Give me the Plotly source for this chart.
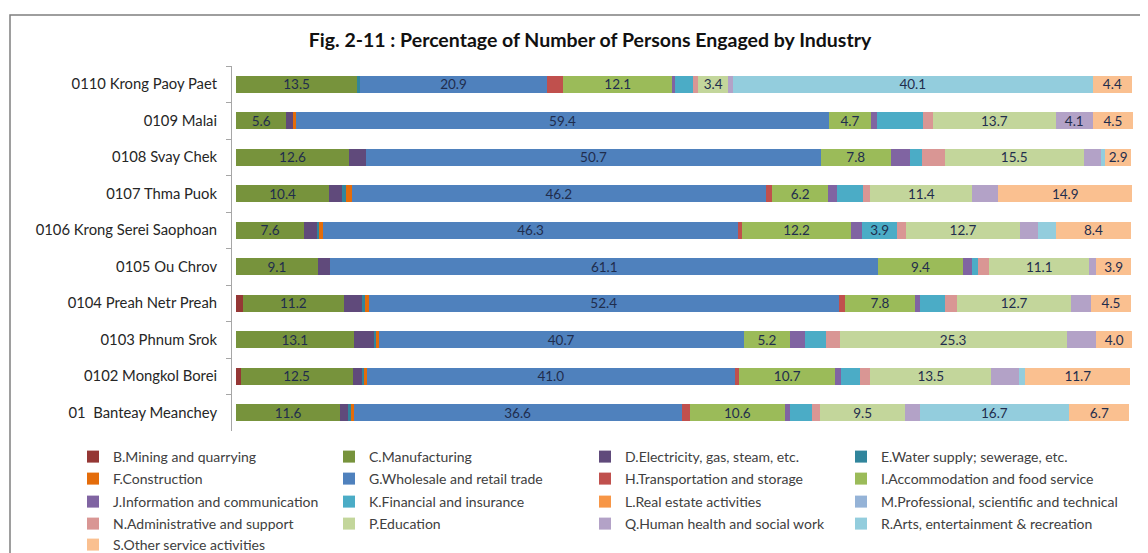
import plotly.graph_objects as go

# ---------------- data ----------------
categories = [
    "0110 Krong Paoy Paet",
    "0109 Malai",
    "0108 Svay Chek",
    "0107 Thma Puok",
    "0106 Krong Serei Saophoan",
    "0105 Ou Chrov",
    "0104 Preah Netr Preah",
    "0103 Phnum Srok",
    "0102 Mongkol Borei",
    "01\u00a0 Banteay Meanchey",
]

series_names = [
    "B.Mining and quarrying", "C.Manufacturing", "D.Electricity, gas, steam, etc.",
    "E.Water supply; sewerage, etc.", "F.Construction", "G.Wholesale and retail trade",
    "H.Transportation and storage", "I.Accommodation and food service",
    "J.Information and communication", "K.Financial and insurance",
    "L.Real estate activities", "M.Professional, scientific and technical",
    "N.Administrative and support", "P.Education", "Q.Human health and social work",
    "R.Arts, entertainment & recreation", "S.Other service activities",
]

B = [0.0, 0.0, 0.0, 0.0, 0.0, 0.0, 0.8, 0.0, 0.5, 0.0]
C = [13.5, 5.6, 12.6, 10.4, 7.6, 9.1, 11.2, 13.1, 12.5, 11.6]
D = [0.0, 0.8, 1.9, 1.4, 1.4, 1.4, 2.0, 2.3, 1.0, 0.9]
E = [0.3, 0.0, 0.0, 0.5, 0.3, 0.0, 0.4, 0.3, 0.3, 0.3]
F = [0.0, 0.3, 0.0, 0.6, 0.4, 0.0, 0.4, 0.2, 0.3, 0.3]
G = [20.9, 59.4, 50.7, 46.2, 46.3, 61.1, 52.4, 40.7, 41.0, 36.6]
H = [1.8, 0.0, 0.0, 0.7, 0.4, 0.0, 0.7, 0.0, 0.5, 0.9]
I = [12.1, 4.7, 7.8, 6.2, 12.2, 9.4, 7.8, 5.2, 10.7, 10.6]
J = [0.3, 0.7, 2.1, 1.0, 1.2, 1.1, 0.6, 1.6, 0.6, 0.6]
K = [2.0, 5.1, 1.4, 2.9, 3.9, 0.6, 2.7, 2.4, 2.2, 2.4]
L = [0.0, 0.0, 0.0, 0.0, 0.0, 0.0, 0.0, 0.0, 0.0, 0.0]
M = [0.0, 0.0, 0.0, 0.0, 0.0, 0.0, 0.0, 0.0, 0.0, 0.0]
N = [0.6, 1.1, 2.5, 0.8, 1.0, 1.3, 1.4, 1.5, 1.1, 0.9]
P = [3.4, 13.7, 15.5, 11.4, 12.7, 11.1, 12.7, 25.3, 13.5, 9.5]
Q = [0.5, 4.1, 1.9, 2.9, 2.0, 0.8, 2.2, 3.3, 3.1, 1.6]
R = [40.1, 0.0, 0.5, 0.0, 2.0, 0.0, 0.0, 0.0, 0.7, 16.7]
S = [4.4, 4.5, 2.9, 14.9, 8.4, 3.9, 4.5, 4.0, 11.7, 6.7]

series_values = [B, C, D, E, F, G, H, I, J, K, L, M, N, P, Q, R, S]

colors = [
    "#953735", "#77933C", "#604A7B", "#31859C", "#E46C0A", "#4F81BD",
    "#C0504D", "#9BBB59", "#8064A2", "#4BACC6", "#F79646", "#95B3D7",
    "#D99694", "#C3D69B", "#B3A2C7", "#93CDDD", "#FAC090",
]

# which series show data labels, plus single extra labelled segments
labelled_series = {"C", "G", "I", "P", "R", "S"}
extra_labels = {("K", "0106 Krong Serei Saophoan"), ("Q", "0109 Malai")}

# ---------------- layout geometry ----------------
# the page body adds an 8px margin, so the figure is drawn 8px smaller and
# reference pixel positions are shifted by OFF
OFF = 8
W, Hh = 1148 - OFF, 553 - OFF
PLOT_L, PLOT_R, PLOT_T, PLOT_B = 232, 1133, 66, 431   # reference pixels
ML = PLOT_L - OFF
MR = W - (PLOT_R - OFF)
MT = PLOT_T - OFF
MB = Hh - (PLOT_B - OFF)
PW = W - ML - MR
PH = Hh - MT - MB


def px_x(px):
    return (px - PLOT_L) / PW


def px_y(py):
    return (PLOT_B - py) / PH


fig = go.Figure()

legend_rows = ["legend", "legend2", "legend3", "legend4", "legend5"]

for idx, (name, vals, col) in enumerate(zip(series_names, series_values, colors)):
    key = name[0]
    texts = []
    for cat, v in zip(categories, vals):
        show = (key in labelled_series and v >= 2.5) or ((key, cat) in extra_labels)
        texts.append(f"{v:.1f}" if show else "")
    fig.add_trace(go.Bar(
        y=categories, x=vals, name=name, orientation="h",
        marker=dict(color=col, line=dict(width=0)),
        text=texts, textposition="inside", insidetextanchor="middle",
        textangle=0, constraintext="none",
        textfont=dict(family="Lato, Open Sans, sans-serif", size=13.5, color="#1F2D4D"),
        legend=legend_rows[idx // 4],
        legendwidth=(250 if idx % 4 == 3 else 211),
        hoverinfo="name+x",
    ))

leg_font = dict(family="Lato, Open Sans, sans-serif", size=14, color="#404040")
row_centers = [457, 479, 502, 524, 545]
legend_layouts = {}
for r, lname in enumerate(legend_rows):
    legend_layouts[lname] = dict(
        orientation="h", x=px_x(73), xanchor="left",
        y=px_y(row_centers[r]), yanchor="middle",
        entrywidth=211, entrywidthmode="pixels",
        font=leg_font, bgcolor="rgba(0,0,0,0)", borderwidth=0,
        traceorder="normal", itemclick=False, itemdoubleclick=False,
    )

fig.update_layout(
    width=W, height=Hh,
    barmode="stack", bargap=0.53,
    paper_bgcolor="white", plot_bgcolor="white",
    margin=dict(l=ML, r=MR, t=MT, b=MB, autoexpand=False),
    title=dict(
        text="<b>Fig. 2-11 : Percentage of Number of Persons Engaged by Industry</b>",
        x=(590 - OFF) / W, xanchor="center", xref="container",
        y=1 - (40 - OFF) / Hh, yanchor="middle", yref="container",
        font=dict(family="Lato, Open Sans, sans-serif", size=19.5, color="#111111"),
    ),
    xaxis=dict(range=[-0.45, 100], visible=False, fixedrange=True),
    yaxis=dict(
        autorange="reversed", showline=True, linecolor="#A6A6A6", linewidth=1,
        ticks="outside", tickson="boundaries", ticklen=5, tickcolor="#A6A6A6",
        tickfont=dict(family="Lato, Open Sans, sans-serif", size=14.8, color="#262626"),
        ticklabelstandoff=11, showgrid=False, fixedrange=True,
    ),
    showlegend=True,
    **legend_layouts,
)

# outer chart frame
fig.add_shape(
    type="rect", xref="paper", yref="paper",
    x0=px_x(10), x1=px_x(1200), y0=px_y(600), y1=px_y(15),
    line=dict(color="#7F7F7F", width=1.5), fillcolor="rgba(0,0,0,0)", layer="below",
)

fig.write_html("out.html")
